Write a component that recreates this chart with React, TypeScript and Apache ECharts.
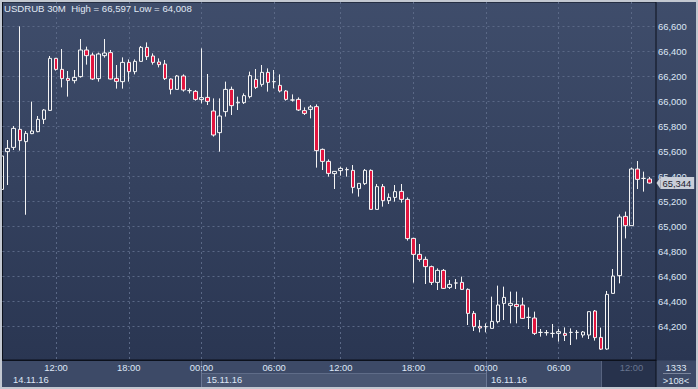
import React, { useEffect, useRef } from 'react';
import * as echarts from 'echarts';

// ---------- data ----------
const SYMBOL = 'USDRUB';
const PERIOD = '30M';
const TOTAL_BARS = 1333;

// 30-minute bars; one slot (15.11 09:30) missing in the feed
const daySegments = [
  { date: '14.11.16', start: '07:30', count: 33 },
  { date: '15.11.16', start: '00:00', count: 19 },
  { date: '15.11.16', start: '10:00', count: 28 },
  { date: '16.11.16', start: '00:00', count: 28 },
];

const opens = [
  65293, 65595, 65629, 65773, 65675, 65739, 65755, 65853, 65925, 66341,
  66253, 66181, 66163, 66195, 66408, 66368, 66179, 66363, 66387, 66181,
  66155, 66309, 66235, 66317, 66429, 66360, 66312, 66296, 66176, 66093,
  66200, 66083, 66077, 66011, 66029, 65920, 65747, 65915, 66093, 65985,
  65987, 66035, 66173, 66133, 66229, 66155, 66125, 66080, 66008, 66013,
  65923, 65933, 65955, 65613, 65517, 65419, 65443, 65451, 65445, 65299,
  65339, 65445, 65133, 65315, 65203, 65229, 65277, 65213, 64901, 64773,
  64733, 64675, 64549, 64645, 64509, 64544, 64549, 64493, 64301, 64197,
  64195, 64181, 64235, 64381, 64365, 64373, 64368, 64269, 64264, 64149,
  64147, 64141, 64141, 64141, 64149, 64149, 64128, 64128, 64320, 64109,
  64016, 64461, 64603, 65077, 65003, 65456, 65381, 65376,
];
const closes = [
  65560, 65621, 65781, 65683, 65741, 65760, 65853, 65928, 66341, 66253,
  66179, 66165, 66189, 66408, 66363, 66176, 66376, 66384, 66176, 66157,
  66309, 66235, 66317, 66429, 66355, 66309, 66291, 66179, 66093, 66200,
  66088, 66083, 66013, 66027, 65997, 65728, 65880, 66093, 65963, 65990,
  66043, 66203, 66109, 66229, 66149, 66155, 66080, 66013, 66008, 65928,
  65901, 65952, 65603, 65517, 65421, 65437, 65461, 65451, 65309, 65341,
  65445, 65133, 65315, 65203, 65229, 65275, 65213, 64899, 64773, 64733,
  64675, 64549, 64645, 64501, 64533, 64544, 64493, 64301, 64195, 64184,
  64195, 64237, 64368, 64429, 64381, 64355, 64261, 64269, 64141, 64149,
  64147, 64141, 64155, 64125, 64149, 64149, 64152, 64315, 64107, 64015,
  64453, 64600, 65072, 65003, 65456, 65373, 65381, 65344,
];
const lows = [
  65280, 65328, 65608, 65603, 65090, 65735, 65750, 65816, 65920, 66243,
  66109, 66035, 66141, 66187, 66291, 66168, 66155, 66347, 66173, 66099,
  66099, 66155, 66213, 66317, 66328, 66291, 66269, 66168, 66053, 66093,
  66075, 66061, 66003, 65981, 65968, 65715, 65595, 65875, 65888, 65928,
  65976, 66021, 66096, 66115, 66075, 66101, 66069, 66003, 65995, 65920,
  65888, 65861, 65467, 65448, 65395, 65296, 65403, 65395, 65261, 65235,
  65328, 65133, 65133, 65155, 65176, 65195, 65187, 64883, 64547, 64715,
  64536, 64528, 64488, 64496, 64496, 64496, 64488, 64208, 64160, 64149,
  64149, 64181, 64221, 64248, 64221, 64221, 64256, 64176, 64128, 64115,
  64123, 64107, 64075, 64080, 64048, 64093, 64107, 64096, 64083, 64008,
  64010, 64461, 64541, 64901, 65003, 65296, 65275, 65339,
];
const highs = [
  65570, 65688, 65800, 66597, 65760, 65995, 65880, 65935, 66360, 66345,
  66416, 66240, 66248, 66496, 66435, 66387, 66387, 66496, 66408, 66288,
  66349, 66333, 66333, 66440, 66469, 66381, 66341, 66328, 66180, 66208,
  66213, 66101, 66088, 66421, 66216, 66021, 66021, 66155, 66115, 66035,
  66061, 66235, 66256, 66288, 66261, 66248, 66213, 66088, 66053, 66029,
  65949, 65968, 65973, 65620, 65533, 65440, 65475, 65469, 65488, 65341,
  65456, 65453, 65336, 65336, 65261, 65328, 65336, 65229, 64905, 64856,
  64755, 64683, 64661, 64656, 64568, 64576, 64595, 64501, 64320, 64248,
  64221, 64435, 64523, 64515, 64475, 64475, 64427, 64349, 64315, 64176,
  64168, 64216, 64176, 64189, 64181, 64168, 64160, 64315, 64328, 64187,
  64480, 64656, 65093, 65115, 65467, 65520, 65435, 65392,
];

// ---------- helpers ----------
type Slot = { date: string; time: string };
function buildSlots(): Slot[] {
  const out: Slot[] = [];
  for (const s of daySegments) {
    let [h, m] = s.start.split(':').map(Number);
    for (let k = 0; k < s.count; k++) {
      out.push({ date: s.date, time: `${String(h).padStart(2, '0')}:${String(m).padStart(2, '0')}` });
      m += 30;
      if (m >= 60) { m -= 60; h += 1; }
    }
  }
  return out;
}
const slots = buildSlots();
const fmt = (v: number) => Math.round(v).toLocaleString('en-US');

const timeTickIdx = slots
  .map((s, i) => ({ s, i }))
  .filter(({ s }) => s.time.endsWith(':00') && Number(s.time.slice(0, 2)) % 6 === 0)
  .map(({ i }) => i);
const dayStartIdx = slots
  .map((s, i) => ({ s, i }))
  .filter(({ s, i }) => i > 0 && s.date !== slots[i - 1].date)
  .map(({ i }) => i);

const X_MIN = 0.15;
const X_MAX = 108.06;
const DIM_FROM = 99; // bars covered by the dark strip at the bottom right
const Y_MIN = 63928;
const Y_MAX = 66792;

const FONT = '"Liberation Sans", Arial, sans-serif';
const GRID_COLOR = '#5a6886';
const LABEL_COLOR = '#dde7f6';

const dateLabelPos = [X_MIN + 0.9, ...dayStartIdx];
const dateLabelText = [slots[0].date, ...dayStartIdx.map((i) => slots[i].date)];

const yLineColors = ['transparent', 'transparent', ...Array(13).fill(GRID_COLOR), 'transparent', 'transparent'];

export default function App() {
  const ref = useRef<HTMLDivElement>(null);
  useEffect(() => {
    const chart = echarts.init(ref.current!, null, { renderer: 'svg' });
    const candleData = opens.map((o, i) => [i, o, closes[i], lows[i], highs[i]]);
    const lastClose = closes[closes.length - 1];
    const hi = Math.max(...highs);
    const lo = Math.min(...lows);

    chart.setOption({
      animation: false,
      backgroundColor: 'transparent',
      textStyle: { fontFamily: FONT },
      title: {
        text: `${SYMBOL} ${PERIOD}  High = ${fmt(hi)} Low = ${fmt(lo)}`,
        left: 4,
        top: 3,
        padding: 0,
        textStyle: { color: '#e0e8f4', fontSize: 9.6, fontWeight: 'normal', fontFamily: FONT },
      },
      grid: {
        left: 2.5,
        right: 42,
        top: 2,
        bottom: 29,
        show: true,
        borderColor: '#0c111c',
        borderWidth: 1,
        backgroundColor: 'transparent',
      },
      xAxis: [
        {
          type: 'value',
          min: X_MIN,
          max: X_MAX,
          axisLine: { show: true, lineStyle: { color: '#0c111c' } },
          axisTick: { show: false, customValues: timeTickIdx },
          axisLabel: {
            customValues: timeTickIdx,
            fontSize: 9.4,
            color: LABEL_COLOR,
            fontFamily: FONT,
            margin: 3,
            formatter: (v: number) => {
              const i = Math.round(v);
              const t = slots[i] ? slots[i].time : '';
              return i >= DIM_FROM ? `{dim|${t}}` : t;
            },
            rich: { dim: { color: '#68748f', fontSize: 9.4, fontFamily: FONT } },
          },
          splitLine: { show: true, lineStyle: { color: GRID_COLOR, type: [2, 3], width: 1 } },
        },
        {
          type: 'value',
          min: X_MIN,
          max: X_MAX,
          position: 'bottom',
          offset: 12,
          axisLine: { show: false },
          axisTick: { show: false, customValues: dateLabelPos },
          splitLine: { show: false },
          axisLabel: {
            customValues: dateLabelPos,
            fontSize: 9.4,
            color: LABEL_COLOR,
            fontFamily: FONT,
            margin: 3,
            align: 'left',
            padding: [0, 0, 0, 5],
            formatter: (v: number) => {
              const k = dateLabelPos.findIndex((p) => Math.abs(p - v) < 1e-6);
              return k >= 0 ? dateLabelText[k] : '';
            },
          },
        },
      ],
      yAxis: {
        type: 'value',
        position: 'right',
        min: Y_MIN,
        max: Y_MAX,
        splitNumber: 14,
        minInterval: 200,
        maxInterval: 200,
        axisLine: { show: false },
        axisTick: { show: false },
        axisLabel: {
          color: LABEL_COLOR,
          fontSize: 9.4,
          fontFamily: FONT,
          margin: 2,
          showMinLabel: false,
          showMaxLabel: false,
          formatter: (v: number) => (v < 64100 ? '' : fmt(v)),
        },
        splitLine: { show: true, lineStyle: { color: yLineColors, type: [2, 3], width: 1 } },
      },
      series: [
        {
          type: 'candlestick',
          xAxisIndex: 0,
          yAxisIndex: 0,
          data: candleData,
          barWidth: 4,
          clip: true,
          itemStyle: {
            color: 'rgba(0,0,0,0)',
            color0: '#e2153f',
            borderColor: '#f4f4f4',
            borderColor0: '#f4f4f4',
            borderWidth: 1,
          },
        },
      ],
    });

    const px = (i: number) => chart.convertToPixel({ xAxisIndex: 0 }, i) as number;
    const py = (v: number) => chart.convertToPixel({ yAxisIndex: 0 }, v) as number;
    const plotRight = px(X_MAX);
    const axisY = py(Y_MIN);
    const panelBottom = 387;
    const rowSplit = 373.5;
    const elems: any[] = [];
    // bottom panel background
    elems.push({ type: 'rect', z: -10, shape: { x: 0, y: axisY + 0.5, width: 698, height: 389 - axisY }, style: { fill: '#3d4a67' } });
    // alternating day band (second day)
    for (let d = 0; d < dayStartIdx.length; d++) {
      const x0 = px(dayStartIdx[d]);
      const x1 = d + 1 < dayStartIdx.length ? px(dayStartIdx[d + 1]) : plotRight;
      if (d % 2 === 0) {
        elems.push({ type: 'rect', z: -9, shape: { x: x0, y: rowSplit, width: x1 - x0, height: panelBottom - rowSplit }, style: { fill: '#4a5773' } });
        elems.push({ type: 'line', z: -8, shape: { x1: x0, y1: rowSplit, x2: x1, y2: rowSplit }, style: { stroke: '#5f6c88', lineWidth: 1 } });
      }
      elems.push({ type: 'line', z: -7, shape: { x1: Math.round(x0) + 0.5, y1: axisY + 1, x2: Math.round(x0) + 0.5, y2: panelBottom }, style: { stroke: '#6b7895', lineWidth: 1 } });
    }
    // dark strip for the latest bars
    const xd = px(DIM_FROM);
    elems.push({ type: 'rect', z: -9, shape: { x: xd, y: axisY + 1, width: plotRight - xd, height: panelBottom - axisY - 1 }, style: { fill: '#27324c' } });
    elems.push({ type: 'line', z: -8, shape: { x1: Math.round(xd) + 0.5, y1: axisY + 1, x2: Math.round(xd) + 0.5, y2: panelBottom }, style: { stroke: '#57637f', lineWidth: 1 } });
    // right border continuing through the bottom panel
    elems.push({ type: 'line', z: 5, shape: { x1: plotRight, y1: axisY, x2: plotRight, y2: panelBottom }, style: { stroke: '#0c111c', lineWidth: 1 } });
    // counter box
    const cx = (plotRight + 696) / 2;
    elems.push({ type: 'text', z: 5, x: cx, y: 367, style: { text: String(TOTAL_BARS), fill: '#dfe7f3', font: `9.4px ${FONT}`, textAlign: 'center', textVerticalAlign: 'middle' } });
    elems.push({ type: 'line', z: 5, shape: { x1: plotRight + 7, y1: rowSplit, x2: 691, y2: rowSplit }, style: { stroke: '#7b869c', lineWidth: 1 } });
    elems.push({ type: 'text', z: 5, x: cx, y: 380.5, style: { text: `>${opens.length}<`, fill: '#dfe7f3', font: `9.4px ${FONT}`, textAlign: 'center', textVerticalAlign: 'middle' } });
    // last-price tag
    const ly = py(lastClose);
    elems.push({ type: 'polygon', z: 6, shape: { points: [[plotRight + 0.5, ly], [plotRight + 4.5, ly - 6], [plotRight + 4.5, ly + 6]] }, style: { fill: '#c9ced8' } });
    elems.push({
      type: 'text',
      z: 6,
      x: plotRight + 4.5,
      y: ly,
      style: {
        text: fmt(lastClose),
        fill: '#1b202c',
        font: `9.4px ${FONT}`,
        textAlign: 'left',
        textVerticalAlign: 'middle',
        backgroundColor: '#c9ced8',
        padding: [2, 3, 1, 2],
      },
    });

    chart.setOption({ graphic: elems });
    return () => chart.dispose();
  }, []);

  return (
    <div
      style={{
        position: 'fixed',
        left: 0,
        top: 0,
        width: 698,
        height: 389,
        background: 'linear-gradient(to bottom, #3f4d6b 0px, #2a3652 360px)',
        overflow: 'hidden',
      }}
    >
      <div ref={ref} style={{ width: 698, height: 389 }} />
      <div
        style={{
          position: 'absolute',
          left: 0,
          top: 0,
          width: 698,
          height: 389,
          border: '2px solid #c3c8d1',
          boxSizing: 'border-box',
          pointerEvents: 'none',
        }}
      />
    </div>
  );
}
